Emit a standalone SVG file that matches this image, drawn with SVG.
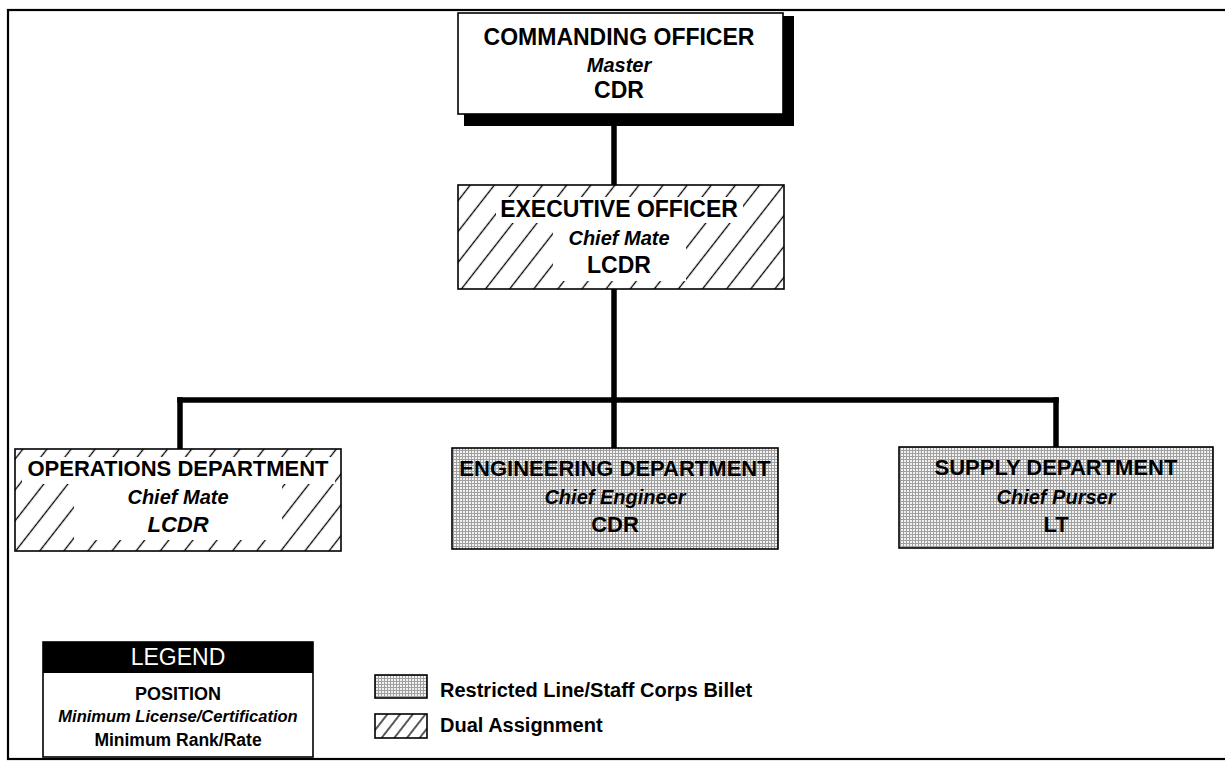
<svg xmlns="http://www.w3.org/2000/svg" width="1225" height="761" viewBox="0 0 1225 761">
<style>
text{font-family:"Liberation Sans",Arial,Helvetica,sans-serif;text-anchor:middle;fill:#000}
.t{font-size:23px;font-weight:bold}
.td{font-size:22px;font-weight:bold}
.s{font-size:20px;font-weight:bold;font-style:italic}
.r{font-size:23px;font-weight:bold}
.rd{font-size:22px;font-weight:bold}
.box{stroke:#000;stroke-width:1.6}
.ko{fill:#fff}
.conn{stroke:#000;stroke-width:5.5;fill:none;stroke-linecap:square}
.leg{font-size:20px;font-weight:bold;text-anchor:start}
</style>
<defs>
<pattern id="hatch" width="19" height="20" patternUnits="userSpaceOnUse" patternTransform="rotate(38)">
<rect width="19" height="20" fill="#fff"/>
<line x1="9.5" y1="0" x2="9.5" y2="20" stroke="#000" stroke-width="1.3"/>
</pattern>
<pattern id="hatchS" width="10" height="20" patternUnits="userSpaceOnUse" patternTransform="rotate(38)">
<rect width="10" height="20" fill="#fff"/>
<line x1="5" y1="0" x2="5" y2="20" stroke="#000" stroke-width="1.3"/>
</pattern>
<pattern id="dots" width="3" height="3" patternUnits="userSpaceOnUse">
<rect width="3" height="3" fill="#f2f2f2"/>
<rect width="3" height="1" fill="#a0a0a0"/>
<rect width="1" height="3" fill="#a0a0a0"/>
</pattern>
</defs>
<rect width="1225" height="761" fill="#fff"/>
<rect x="8" y="10" width="1230" height="749" fill="none" stroke="#000" stroke-width="2.2"/>

<g id="connectors">
<line class="conn" x1="614" y1="126" x2="614" y2="185"/>
<line class="conn" x1="614" y1="289" x2="614" y2="449"/>
<line class="conn" x1="180" y1="400" x2="1056" y2="400"/>
<line class="conn" x1="180" y1="400" x2="180" y2="449"/>
<line class="conn" x1="1056" y1="400" x2="1056" y2="447"/>
</g>

<g id="commanding-officer">
<rect x="464" y="16" width="330" height="110" fill="#000"/>
<rect class="box" x="458" y="13" width="325" height="101" fill="#fff"/>
<text class="t" x="619" y="45">COMMANDING OFFICER</text>
<text class="s" x="619" y="72">Master</text>
<text class="r" x="619" y="98">CDR</text>
</g>

<g id="executive-officer">
<rect class="box" x="458" y="185" width="326" height="104" fill="url(#hatch)"/>
<rect class="ko" x="496" y="197" width="247" height="26"/>
<rect class="ko" x="553" y="223" width="133" height="58"/>
<text class="t" x="619" y="217">EXECUTIVE OFFICER</text>
<text class="s" x="619" y="245">Chief Mate</text>
<text class="r" x="619" y="273">LCDR</text>
</g>

<g id="operations-department">
<rect class="box" x="15" y="449" width="326" height="102" fill="url(#hatch)"/>
<rect class="ko" x="22" y="457" width="313" height="27"/>
<rect class="ko" x="74" y="484" width="208" height="56"/>
<text class="td" x="178" y="476">OPERATIONS DEPARTMENT</text>
<text class="s" x="178" y="504">Chief Mate</text>
<text class="rd" x="178" y="532" font-style="italic">LCDR</text>
</g>

<g id="engineering-department">
<rect class="box" x="452" y="448" width="326" height="101" fill="url(#dots)"/>
<text class="td" x="615" y="476">ENGINEERING DEPARTMENT</text>
<text class="s" x="615" y="504">Chief Engineer</text>
<text class="rd" x="615" y="532">CDR</text>
</g>

<g id="supply-department">
<rect class="box" x="899" y="447" width="314" height="101" fill="url(#dots)"/>
<text class="td" x="1056" y="475">SUPPLY DEPARTMENT</text>
<text class="s" x="1056" y="504">Chief Purser</text>
<text class="rd" x="1056" y="532">LT</text>
</g>

<g id="legend">
<rect class="box" x="43" y="642" width="270" height="115" fill="#fff"/>
<rect x="43" y="642" width="270" height="31" fill="#000"/>
<text x="178" y="665" style="font-size:23px;fill:#fff">LEGEND</text>
<text x="178" y="700" style="font-size:18px;font-weight:bold">POSITION</text>
<text x="178" y="722" style="font-size:16.5px;font-weight:bold;font-style:italic">Minimum License/Certification</text>
<text x="178" y="746" style="font-size:17.5px;font-weight:bold">Minimum Rank/Rate</text>
</g>

<g id="legend-key">
<rect class="box" x="375" y="675" width="52" height="23" fill="url(#dots)"/>
<text class="leg" x="440" y="697">Restricted Line/Staff Corps Billet</text>
<rect class="box" x="375" y="714" width="52" height="24" fill="url(#hatchS)"/>
<text class="leg" x="440" y="732">Dual Assignment</text>
</g>
</svg>
